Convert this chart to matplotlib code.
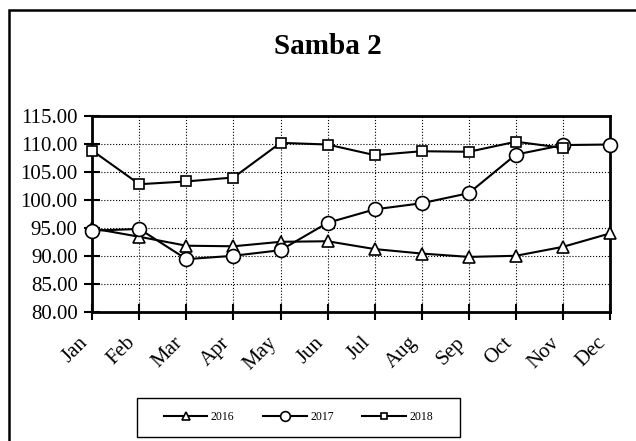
import matplotlib
matplotlib.use('Agg')
from matplotlib import pyplot as plt
from matplotlib.patches import Rectangle
from matplotlib.transforms import ScaledTranslation

months = ['Jan', 'Feb', 'Mar', 'Apr', 'May', 'Jun', 'Jul', 'Aug', 'Sep', 'Oct', 'Nov', 'Dec']
y2016 = [94.9, 93.4, 91.8, 91.7, 92.5, 92.6, 91.2, 90.4, 89.8, 90.0, 91.6, 94.0]
y2017 = [94.5, 94.8, 89.4, 90.0, 91.0, 95.9, 98.3, 99.4, 101.2, 108.1, 109.8, 109.9]
y2018 = [108.8, 102.8, 103.3, 104.0, 110.2, 109.9, 108.0, 108.7, 108.6, 110.4, 109.3]

plt.rcParams['font.family'] = ['Liberation Serif', 'DejaVu Serif']

fig = plt.figure(figsize=(6.36, 4.41), dpi=100)
# outer chart border (runs off the right and bottom edges)
fig.patches.append(Rectangle((9 / 636, -0.05), 1.2, 1 - 10 / 441 + 0.05,
                             transform=fig.transFigure, fill=False,
                             edgecolor='black', linewidth=1.8, zorder=0))

ax = fig.add_axes([92.3 / 636, 1 - 311.7 / 441, (610 - 92.3) / 636, (311.7 - 116) / 441])

x = list(range(len(months)))
style = dict(color='black', linewidth=1.5, markerfacecolor='white',
             markeredgecolor='black', markeredgewidth=1.2, clip_on=False)
ax.plot(x, y2016, marker='^', markersize=9, label='2016', zorder=3, **style)
ax.plot(x, y2017, marker='o', markersize=10, label='2017', zorder=4, **style)
ax.plot(x[:len(y2018)], y2018, marker='s', markersize=6.5, label='2018', zorder=5, **style)

ax.set_xlim(0, 11)
ax.set_ylim(80, 115)
ax.set_yticks([80, 85, 90, 95, 100, 105, 110, 115])
ax.set_yticklabels(['%.2f' % v for v in ax.get_yticks()], fontsize=15)
ax.set_xticks(x)
ax.set_xticklabels(months, rotation=45, fontsize=15, ha='right', va='top')
offset = ScaledTranslation(5 / 100, 0, fig.dpi_scale_trans)
for lbl in ax.get_xticklabels():
    lbl.set_transform(lbl.get_transform() + offset)

ax.grid(True, color='black', linestyle=':', linewidth=0.8)
ax.set_axisbelow(True)
for s in ax.spines.values():
    s.set_linewidth(2)
ax.tick_params(axis='both', direction='inout', length=11, width=1.5, pad=6)
ax.tick_params(axis='y', pad=5)
ax.tick_params(axis='x', pad=10)

fig.text(328 / 636, 1 - 47 / 441, 'Samba 2', ha='center', va='center',
         fontsize=21, fontweight='bold')

# legend box drawn separately
fig.patches.append(Rectangle((136.7 / 636, 1 - 436.7 / 441), (460 - 136.7) / 636, 39 / 441,
                             transform=fig.transFigure, fill=False,
                             edgecolor='black', linewidth=1.0))
leg = fig.legend(loc='center', bbox_to_anchor=((136.7 + 460) / 2 / 636, 1 - 417 / 441),
                 ncol=3, fontsize=8.5, frameon=False, markerscale=0.7,
                 columnspacing=2.4, handlelength=3.7, handletextpad=0.3)

plt.savefig('out.png', dpi=100)
